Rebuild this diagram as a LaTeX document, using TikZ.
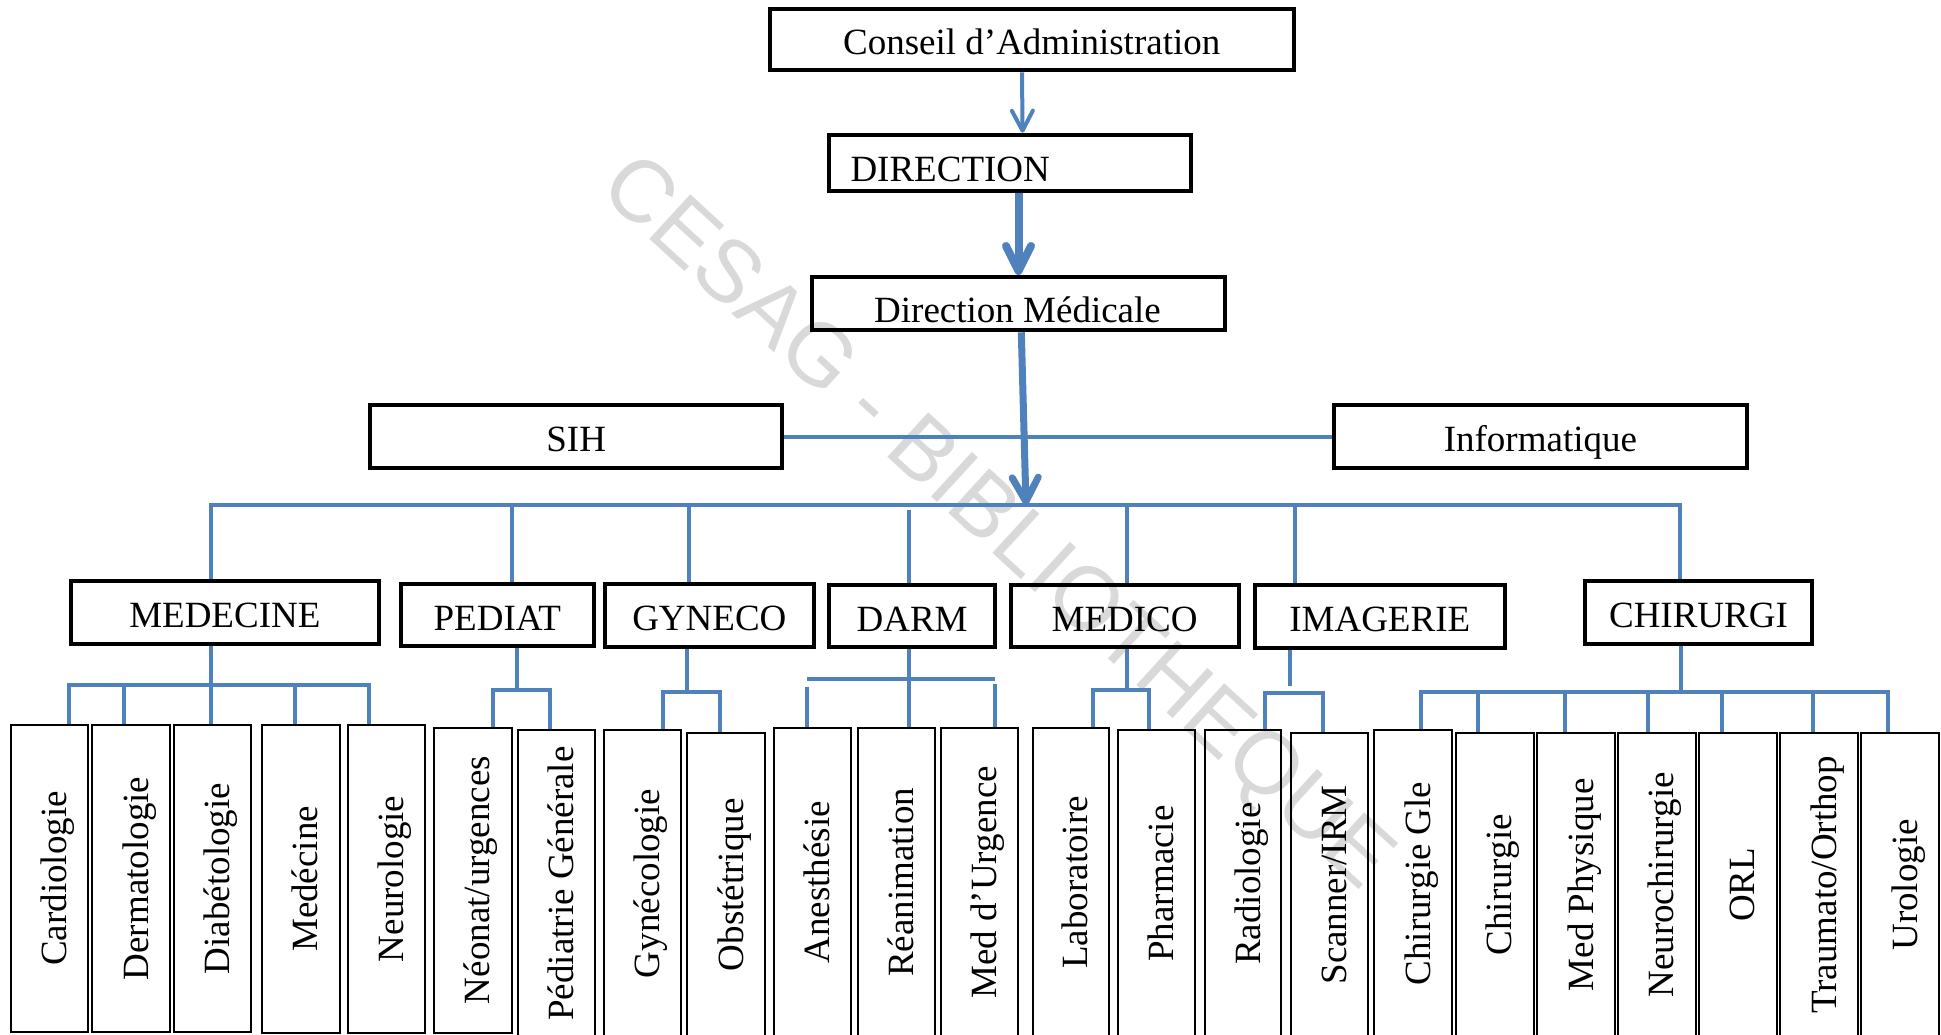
\documentclass[tikz,border=0pt]{standalone}
\usepackage{fontspec}
\usepackage{graphicx}
\setmainfont{Liberation Serif}
\newfontfamily\markfont{Liberation Sans}
\usetikzlibrary{arrows.meta}
\definecolor{linkblue}{HTML}{4F81BD}
\definecolor{markgray}{RGB}{217,217,217}
% upright label set bottom-to-top, baseline kept 17pt right of the box centre
\newcommand{\vlabel}[1]{\rotatebox{90}{\rule[-8pt]{0pt}{50pt}#1}}

\begin{document}
\begin{tikzpicture}[x=1pt, y=-1pt,
  bigbox/.style={draw=black, line width=4pt, inner sep=0pt,
    font=\fontsize{37}{44}\selectfont, text height=38pt, text depth=8pt},
  leaf/.style={draw=black, line width=2pt, inner sep=0pt,
    font=\fontsize{37}{44}\selectfont},
  conn/.style={draw=linkblue, line width=4pt},
  bus/.style={conn, line cap=rect},
  flow/.style={draw=linkblue, line width=#1}]

\useasboundingbox (0,0) rectangle (1941,1035);
\clip (0,0) rectangle (1941,1035);
\fill[white] (0,0) rectangle (1941,1035);

% library stamp across the chart
\node[font=\markfont\fontsize{88}{100}\selectfont, text=markgray, rotate=-42.5]
  (stamp) at (995,525) {CESAG - BIBLIOTHEQUE};

% ---------- governance chain ----------
\node[bigbox, minimum width=524.2pt, minimum height=61.6pt] (conseil) at (1031.7,39.5)
  {Conseil d’Administration};
\node[bigbox, minimum width=362.1pt, minimum height=56.6pt, text height=45.4pt] (direction)
  at (1010.35,163) {\makebox[319.7pt][l]{DIRECTION}};
\node[bigbox, minimum width=413.5pt, minimum height=53.3pt] (dirmed) at (1018.65,303.65) {};
\begin{scope}
  \clip (dirmed.north west) rectangle ([yshift=9.8pt]dirmed.south east);
  \node[anchor=base, inner sep=0pt, font=\fontsize{37}{44}\selectfont] (dirmedtext)
    at (1017.5,322) {Direction Médicale};
\end{scope}

\node[bigbox, minimum width=412.4pt, minimum height=62.7pt] (sih) at (576.2,436.65) {SIH};
\node[bigbox, minimum width=412.2pt, minimum height=62.7pt] (info) at (1540.4,436.65) {Informatique};

% ---------- departments ----------
\node[bigbox, minimum width=307.3pt, minimum height=62.7pt] (medecine) at (224.85,612.35) {MEDECINE};
\node[bigbox, minimum width=193.3pt, minimum height=62.6pt] (pediat)   at (497.35,615)    {PEDIAT};
\node[bigbox, minimum width=209.3pt, minimum height=63pt]   (gyneco)   at (709.35,615.8)  {GYNECO};
\node[bigbox, minimum width=165.8pt, minimum height=62pt]   (darm)     at (912.1,616.3)   {DARM};
\node[bigbox, minimum width=227.7pt, minimum height=62.6pt] (medico)   at (1124.65,616)   {MEDICO};
\node[bigbox, minimum width=249.5pt, minimum height=63pt]   (imagerie) at (1379.75,616.5) {IMAGERIE};
\node[bigbox, minimum width=227pt,   minimum height=62.7pt] (chirurgi) at (1698.5,612.35) {CHIRURGI};

% ---------- services: name / left / right / top / bottom / feed x / label ----------
\foreach \nm/\xl/\xr/\yt/\yb/\xd/\lab in {
  cardio/9.8/89.3/724.3/1032.7/69.2/Cardiologie,
  dermato/91/171/724.3/1032.7/124.1/Dermatologie,
  diabeto/172.8/252.2/724.3/1032.7/210.7/Diabétologie,
  medec/260.7/340.6/724.3/1033.5/294.6/Medécine,
  neuro/347.3/426.3/724.3/1033.5/368.8/Neurologie,
  neonat/433/512.5/726.7/1033.5/493.3/{Néonat/urgences},
  pedgen/517/596/729/1038/550/Pédiatrie Générale,
  gynecol/602.7/682/729/1038/663/Gynécologie,
  obst/686.2/765.8/731.7/1038/720.2/Obstétrique,
  anest/773.3/852/726.7/1038/806.5/Anesthésie,
  reanim/857/935.8/726.7/1038/908.9/Réanimation,
  medurg/940.4/1019/726.7/1038/995/Med d’Urgence,
  labo/1031.6/1110.3/726.7/1038/1093.4/Laboratoire,
  pharma/1117.4/1196.2/729/1038/1148.5/Pharmacie,
  radio/1203.6/1282.4/729/1038/1265.4/Radiologie,
  scanner/1289.5/1368.7/731.7/1038/1322.6/{Scanner/IRM},
  chirgle/1372.8/1453.3/729/1038/1421/Chirurgie Gle,
  chir/1454.5/1535/731.7/1038/1477.8/Chirurgie,
  medphys/1536/1616/731.7/1038/1564.5/Med Physique,
  neurochir/1617/1696.6/731.7/1038/1647.5/Neurochirurgie,
  orl/1697.6/1778.3/731.7/1038/1721.9/ORL,
  traumato/1779.3/1859.3/731.7/1038/1813/{Traumato/Orthop},
  uro/1860.3/1940/731.7/1038/1887.5/Urologie}
{
  \node[leaf, minimum width={\xr-\xl-2}, minimum height={\yb-\yt-2}] (\nm)
    at ({(\xl+\xr)/2},{(\yt+\yb)/2}) {\vlabel{\lab}};
  \coordinate (\nm-in) at (\xd,0 |- \nm.north);
}

% ---------- arrows down the chain ----------
\draw[flow=4pt, -{Straight Barb[length=20pt,width=21pt,round]}]
  ([xshift=-9.7pt]conseil.south) -- ([xshift=12.2pt]direction.north);
\draw[flow=8pt, -{Straight Barb[length=25pt,width=25pt,round]}]
  ([xshift=8.15pt]direction.south) -- ([xshift=-0.15pt]dirmed.north);
\coordinate (hub) at (1026,505);
\draw[flow=7pt, -{Straight Barb[length=24pt,width=26pt,round]}]
  ([xshift=2.65pt]dirmed.south) -- (hub);

% SIH -- Informatique link
\draw[conn] (sih.east) -- (info.west);

% ---------- main distribution bus ----------
\draw[conn] ([xshift=-14.35pt]medecine.north) |- (hub) -| ([xshift=-18.9pt]chirurgi.north);
\coordinate (b-ped)  at (512,505);
\coordinate (b-gyn)  at (688.8,505);
\coordinate (b-darm) at (908.8,510);
\coordinate (b-med)  at (1127,505);
\coordinate (b-img)  at (1294.8,505);
\draw[conn] (b-ped)  -- (b-ped  |- pediat.north);
\draw[conn] (b-gyn)  -- (b-gyn  |- gyneco.north);
\draw[conn] (b-darm) -- (b-darm |- darm.north);
\draw[conn] (b-med)  -- (b-med  |- medico.north);
\draw[conn] (b-img)  -- (b-img  |- imagerie.north);

% ---------- MEDECINE services ----------
\coordinate (mb) at (210.7,685);
\draw[conn] (mb |- medecine.south) -- (mb);
\draw[bus] (cardio-in |- mb) -- (neuro-in |- mb);
\foreach \nm in {cardio,dermato,diabeto,medec,neuro}
  \draw[conn] (\nm-in |- mb) -- (\nm-in);

% ---------- PEDIAT services ----------
\coordinate (pb) at (517,690);
\draw[conn] (pb |- pediat.south) -- (pb);
\draw[bus] (neonat-in |- pb) -- (pedgen-in |- pb);
\foreach \nm in {neonat,pedgen}
  \draw[conn] (\nm-in |- pb) -- (\nm-in);

% ---------- GYNECO services ----------
\coordinate (gb) at (687,691.5);
\draw[conn] (gb |- gyneco.south) -- (gb);
\draw[bus] (gynecol-in |- gb) -- (obst-in |- gb);
\foreach \nm in {gynecol,obst}
  \draw[conn] (\nm-in |- gb) -- (\nm-in);

% ---------- DARM services ----------
\coordinate (db) at (908.9,679.3);
\coordinate (dl) at (0,686.7);
\coordinate (dr) at (0,684);
\draw[conn] (db |- darm.south) -- (reanim-in);
\draw[conn] (anest-in |- db) -- (medurg-in |- db);
\draw[conn] (anest-in |- dl) -- (anest-in);
\draw[conn] (medurg-in |- dr) -- (medurg-in);

% ---------- MEDICO services ----------
\coordinate (cb1) at (1126.5,690);
\draw[conn] (cb1 |- medico.south) -- (cb1);
\draw[bus] (labo-in |- cb1) -- (pharma-in |- cb1);
\foreach \nm in {labo,pharma}
  \draw[conn] (\nm-in |- cb1) -- (\nm-in);

% ---------- IMAGERIE services ----------
\coordinate (ib) at (1289.5,692.7);
\coordinate (is) at (1289.5,686);
\draw[conn] (is |- imagerie.south) -- (is);
\draw[bus] (radio-in |- ib) -- (scanner-in |- ib);
\foreach \nm in {radio,scanner}
  \draw[conn] (\nm-in |- ib) -- (\nm-in);

% ---------- CHIRURGI services ----------
\coordinate (hb) at (1681.4,691.7);
\draw[conn] (hb |- chirurgi.south) -- (hb);
\draw[bus] (chirgle-in |- hb) -- (uro-in |- hb);
\foreach \nm in {chirgle,chir,medphys,neurochir,orl,traumato,uro}
  \draw[conn] (\nm-in |- hb) -- (\nm-in);

\end{tikzpicture}
\end{document}
